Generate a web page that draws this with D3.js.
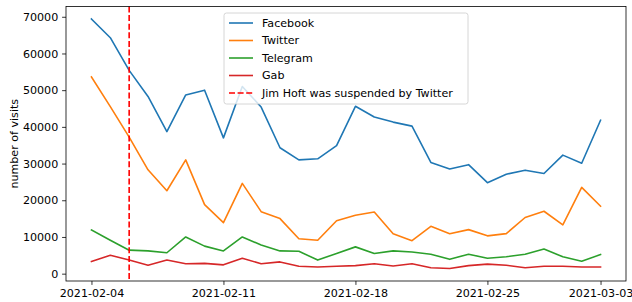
<!DOCTYPE html>
<html>
<head>
<meta charset="utf-8">
<script src="https://cdn.jsdelivr.net/npm/d3@7"></script>
<style>
  body { margin: 0; background: #fff; }
  svg { display: block; font-family: "DejaVu Sans", sans-serif; }
</style>
</head>
<body>
<div id="chart"></div>
<script>
const FRAME_WIDTH = 632;
const FRAME_HEIGHT = 302;
const MARGINS = {left: 66, right: 6, top: 6.5, bottom: 21};

const VIS_WIDTH = FRAME_WIDTH - MARGINS.left - MARGINS.right;
const VIS_HEIGHT = FRAME_HEIGHT - MARGINS.top - MARGINS.bottom;

// data
const START_DATE = "2021-02-04";
const N_DAYS = 28;
const facebook = [69400, 64300, 55400, 48300, 38700, 48700, 50000, 37000, 51000, 45400,
                  34300, 31000, 31300, 34900, 45600, 42700, 41300, 40200, 30300, 28500,
                  29700, 24800, 27100, 28200, 27300, 32300, 30100, 41800];
const twitter = [53600, 45500, 37200, 28300, 22600, 31000, 18800, 13900, 24600, 16900,
                 15000, 9500, 9100, 14400, 15900, 16800, 10900, 9000, 12900, 10900,
                 12000, 10300, 10900, 15300, 17000, 13300, 23500, 18400];
const telegram = [11900, 9100, 6400, 6200, 5700, 10000, 7500, 6200, 10000, 7800,
                  6200, 6100, 3700, 5500, 7300, 5500, 6200, 5900, 5300, 3900,
                  5300, 4200, 4600, 5300, 6700, 4600, 3400, 5200];
const gab = [3300, 5000, 3700, 2300, 3700, 2700, 2800, 2400, 4200, 2700,
             3200, 2000, 1800, 2000, 2200, 2700, 2100, 2700, 1600, 1400,
             2200, 2600, 2300, 1600, 2000, 2000, 1800, 1800];
const seriesNames = ["Facebook", "Twitter", "Telegram", "Gab"];
const seriesColors = ["#1f77b4", "#ff7f0e", "#2ca02c", "#d62728"];
const suspendDate = "2021-02-06";
const suspendLabel = "Jim Hoft was suspended by Twitter";
const xTicks = ["2021-02-04", "2021-02-11", "2021-02-18", "2021-02-25", "2021-03-03"];
const yTicks = [0, 10000, 20000, 30000, 40000, 50000, 60000, 70000];

const parseDate = d3.utcParse("%Y-%m-%d");
const dates = d3.range(N_DAYS).map(i => d3.utcDay.offset(parseDate(START_DATE), i));
const allSeries = [facebook, twitter, telegram, gab];

const FRAME = d3.select("#chart")
                .append("svg")
                  .attr("width", FRAME_WIDTH)
                  .attr("height", FRAME_HEIGHT);

const VIS = FRAME.append("g")
                 .attr("transform", "translate(" + MARGINS.left + "," + MARGINS.top + ")");

// matplotlib style 5% padding
const x0 = dates[0], x1 = dates[N_DAYS - 1];
const xPad = (x1 - x0) * 0.05;
const X_SCALE = d3.scaleUtc()
                  .domain([new Date(+x0 - xPad), new Date(+x1 + xPad)])
                  .range([0, VIS_WIDTH]);

const MIN_Y = d3.min(allSeries, s => d3.min(s));
const MAX_Y = d3.max(allSeries, s => d3.max(s));
const yPad = (MAX_Y - MIN_Y) * 0.05;
const Y_SCALE = d3.scaleLinear()
                  .domain([MIN_Y - yPad, MAX_Y + yPad])
                  .range([VIS_HEIGHT, 0]);

// axes
const xAxis = VIS.append("g")
      .attr("transform", "translate(0," + VIS_HEIGHT + ")")
      .call(d3.axisBottom(X_SCALE)
              .tickValues(xTicks.map(parseDate))
              .tickFormat(d3.utcFormat("%Y-%m-%d"))
              .tickSizeOuter(0)
              .tickSize(3.9)
              .tickPadding(3.9));

const yAxis = VIS.append("g")
      .call(d3.axisLeft(Y_SCALE)
              .tickValues(yTicks)
              .tickFormat(d3.format("d"))
              .tickSizeOuter(0)
              .tickSize(3.9)
              .tickPadding(3.9));

[xAxis, yAxis].forEach(ax => {
  ax.select(".domain").remove();
  ax.selectAll("line").attr("stroke", "#000").attr("stroke-width", 0.8);
  ax.selectAll("text").attr("font-size", "11.1px").attr("fill", "#000")
    .attr("font-family", "DejaVu Sans");
});

// lines
const line = d3.line()
               .x((d, i) => X_SCALE(dates[i]))
               .y(d => Y_SCALE(d));

allSeries.forEach((s, k) => {
  VIS.append("path")
     .datum(s)
     .attr("fill", "none")
     .attr("stroke", seriesColors[k])
     .attr("stroke-width", 1.6)
     .attr("stroke-linejoin", "round")
     .attr("stroke-linecap", "square")
     .attr("d", line);
});

// suspension marker
VIS.append("line")
   .attr("x1", X_SCALE(parseDate(suspendDate)))
   .attr("x2", X_SCALE(parseDate(suspendDate)))
   .attr("y1", 0)
   .attr("y2", VIS_HEIGHT)
   .attr("stroke", "#ff0000")
   .attr("stroke-width", 1.6)
   .attr("stroke-dasharray", "6,2.6");

// frame
VIS.append("rect")
   .attr("x", 0).attr("y", 0)
   .attr("width", VIS_WIDTH).attr("height", VIS_HEIGHT)
   .attr("fill", "none")
   .attr("stroke", "#000")
   .attr("stroke-width", 0.8);

// y label
FRAME.append("text")
     .attr("transform", "translate(18," + (MARGINS.top + VIS_HEIGHT / 2) + ") rotate(-90)")
     .attr("text-anchor", "middle")
     .attr("font-size", "11.1px")
     .text("number of visits");

// legend
const legendItems = seriesNames.map((n, k) => ({name: n, color: seriesColors[k], dash: null}))
  .concat([{name: suspendLabel, color: "#ff0000", dash: "6,2.6"}]);

const LEG = FRAME.append("g").attr("transform", "translate(224,13)");
LEG.append("rect")
   .attr("x", 0).attr("y", 0)
   .attr("width", 244).attr("height", 91)
   .attr("rx", 2.5)
   .attr("fill", "#fff").attr("fill-opacity", 0.8)
   .attr("stroke", "#cccccc").attr("stroke-width", 0.8);

legendItems.forEach((it, k) => {
  const yy = 10 + k * 17.5;
  LEG.append("line")
     .attr("x1", 5).attr("x2", 29)
     .attr("y1", yy).attr("y2", yy)
     .attr("stroke", it.color)
     .attr("stroke-width", 1.6)
     .attr("stroke-dasharray", it.dash);
  LEG.append("text")
     .attr("x", 38).attr("y", yy)
     .attr("dy", "0.36em")
     .attr("font-size", "11.1px")
     .text(it.name);
});
</script>
</body>
</html>
